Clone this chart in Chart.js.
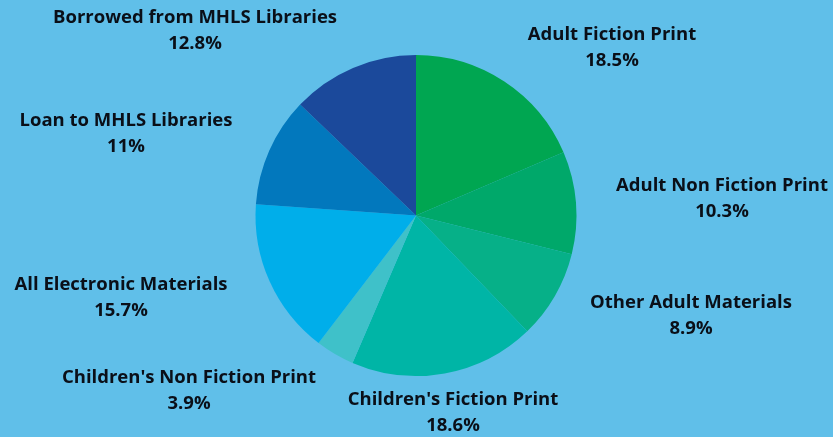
<!DOCTYPE html>
<html>
<head>
<meta charset="utf-8">
<script src="https://cdn.jsdelivr.net/npm/chart.js@4"></script>
<style>
    html, body { margin: 0; padding: 0; background: #60bfe9; }
    #wrap { width: 833px; height: 437px; }
</style>
</head>
<body>
<div id="wrap"><canvas id="pie-chart"></canvas></div>
<script>
const categories = [
    "Adult Fiction Print",
    "Adult Non Fiction Print",
    "Other Adult Materials",
    "Children's Fiction Print",
    "Children's Non Fiction Print",
    "All Electronic Materials",
    "Loan to MHLS Libraries",
    "Borrowed from MHLS Libraries",
];
const percents = [18.5, 10.3, 8.9, 18.6, 3.9, 15.7, 11, 12.8];
const SLICE_COLORS = [
    "#00a651",
    "#00a86a",
    "#06b088",
    "#00b5a6",
    "#3fc1c9",
    "#00aeea",
    "#0278bd",
    "#1b499b",
];

// label anchor offsets from the pie centre (title line centre)
const LABEL_OFFSETS = [
    [196, -181],
    [306, -30],
    [275, 87],
    [37, 184],
    [-227, 162],
    [-295, 69],
    [-290, -95],
    [-221, -198],
];

const outsideLabels = {
    id: "outsideLabels",
    afterDraw(chart) {
        const ctx = chart.ctx;
        const arc = chart.getDatasetMeta(0).data[0];
        if (!arc) return;
        const cx = arc.x, cy = arc.y;
        ctx.save();
        ctx.fillStyle = "#0a0f18";
        ctx.font = "bold 18.5px 'Open Sans', 'Liberation Sans', sans-serif";
        ctx.textAlign = "center";
        ctx.textBaseline = "middle";
        categories.forEach((name, i) => {
            const [dx, dy] = LABEL_OFFSETS[i];
            ctx.fillText(name, cx + dx, cy + dy);
            ctx.fillText(percents[i] + "%", cx + dx, cy + dy + 26.5);
        });
        ctx.restore();
    },
};

new Chart(document.getElementById("pie-chart").getContext("2d"), {
    type: "pie",
    data: {
        labels: categories,
        datasets: [
            {
                data: percents,
                backgroundColor: SLICE_COLORS,
                borderWidth: 0,
            },
        ],
    },
    options: {
        responsive: true,
        maintainAspectRatio: false,
        animation: false,
        layout: { padding: { top: 55, bottom: 61, left: 255, right: 256 } },
        plugins: {
            legend: { display: false },
            tooltip: { enabled: false },
        },
    },
    plugins: [outsideLabels],
});
</script>
</body>
</html>
